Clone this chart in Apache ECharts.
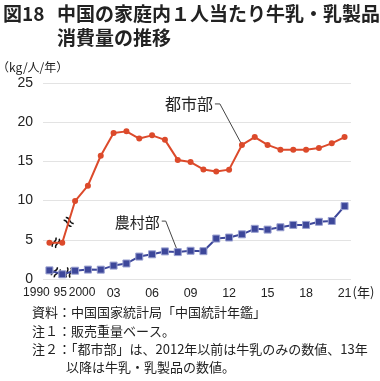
<!DOCTYPE html>
<html><head><meta charset="utf-8">
<script src="https://cdn.jsdelivr.net/npm/echarts@6/dist/echarts.min.js"></script>
<style>html,body{margin:0;padding:0;background:#fff}#c{width:380px;height:381px}</style>
</head><body><div id="c"></div>
<script>
const categories = ['1990','1995','2000','2001','2002','2003','2004','2005','2006','2007','2008','2009','2010','2011','2012','2013','2014','2015','2016','2017','2018','2019','2020','2021'];
const urban = [4.63,4.62,9.94,11.90,15.72,18.62,18.83,17.92,18.32,17.75,15.19,14.91,13.98,13.70,13.95,17.1,18.1,17.1,16.5,16.5,16.5,16.7,17.3,18.1];
const rural = [1.10,0.60,1.06,1.20,1.19,1.71,1.98,2.86,3.15,3.52,3.43,3.60,3.55,5.16,5.29,5.70,6.40,6.30,6.60,6.90,6.90,7.30,7.40,9.30];
const tickCats = ['1990','1995','2000','2003','2006','2009','2012','2015','2018','2021'];
const tickTexts = ['1990','95','2000','03','06','09','12','15','18','21'];
const crowdedTicks = ['1990','1995','2000'];
const yTicks = [0,5,10,15,20,25];
const urbanName = '都市部';
const ruralName = '農村部';
const titleHead = '図18';
const titleLines = ['中国の家庭内１人当たり牛乳・乳製品','消費量の推移'];
const noteLines = ['資料：中国国家統計局「中国統計年鑑」','注１：販売重量ベース。','注２：「都市部」は、2012年以前は牛乳のみの数値、13年','以降は牛乳・乳製品の数値。'];
const yUnit = '（kg/人/年）';
const xUnit = '(年)';

const RED = '#dc4a2b', BLUE = '#3d479a';
const JP = '"Noto Sans CJK JP", sans-serif';
const NUM = '"Liberation Sans", Arial, sans-serif';
const chart = echarts.init(document.getElementById('c'), null, {renderer:'canvas'});
const option = {
  animation:false,
  grid:{left:43, right:29, top:83, bottom:102, containLabel:false},
  xAxis:{type:'category', data:categories, boundaryGap:true,
    axisLine:{show:false}, axisTick:{show:false},
    axisLabel:{interval:(i,v)=>tickCats.indexOf(v)>=0 && crowdedTicks.indexOf(v)<0, showMinLabel:true, showMaxLabel:true,
      margin:8, fontSize:12.5, fontFamily:NUM, color:'#222',
      formatter:(v)=>tickTexts[tickCats.indexOf(v)]}},
  yAxis:{type:'value', min:yTicks[0], max:yTicks[yTicks.length-1], interval:5,
    axisLine:{show:false}, axisTick:{show:false},
    axisLabel:{margin:10, fontSize:14, fontFamily:NUM, color:'#222'},
    splitLine:{lineStyle:{color:'#e3e3e3', width:1}}},
  series:[
    {name:urbanName, type:'line', data:urban, symbol:'circle', symbolSize:6, z:3,
      lineStyle:{color:RED, width:2}, itemStyle:{color:RED}},
    {name:ruralName, type:'line', data:rural, symbol:'rect', symbolSize:7, z:3,
      lineStyle:{color:BLUE, width:2}, itemStyle:{color:BLUE, borderColor:'#9aa0d0', borderWidth:1}}
  ]
};
chart.setOption(option);

function px(i,v){return chart.convertToPixel({xAxisIndex:0,yAxisIndex:0},[i,v]);}
const g = [];
g.push({type:'text', x:3, y:4, style:{text:titleHead, font:'bold 19px '+JP, fill:'#222'}});
g.push({type:'text', x:57, y:4, style:{text:titleLines[0], font:'bold 19px '+JP, fill:'#222'}});
g.push({type:'text', x:57, y:28, style:{text:titleLines[1], font:'bold 19px '+JP, fill:'#222'}});
g.push({type:'text', x:-3, y:61, style:{text:yUnit, font:'12px '+JP, fill:'#222'}});
const last = px(categories.length-1, 0);
g.push({type:'text', x:last[0]+8, y:last[1]+7, style:{text:xUnit, font:'13px '+JP, fill:'#222'}});
const nudge = [-13,-2,7];
crowdedTicks.forEach((c,k)=>{
  const p = px(categories.indexOf(c), 0);
  g.push({type:'text', x:p[0]+nudge[k], y:p[1]+8, style:{text:tickTexts[tickCats.indexOf(c)], font:'12px '+NUM, fill:'#222', align:'center', verticalAlign:'top'}});
});
const noteX=[32,32,32,66];
noteLines.forEach((t,i)=>g.push({type:'text', x:noteX[i], y:306+i*18.3, style:{text:t, font:'13px '+JP, fill:'#222'}}));
function wave(x){return {type:'bezierCurve', shape:{x1:x,y1:-5,cpx1:x+3.5,cpy1:-1.5,cpx2:x-3.5,cpy2:1.5,x2:x,y2:5}, style:{stroke:'#111', lineWidth:1.4, fill:null}};}
function breaks(data){
  [0,1].forEach(i=>{
    const a=px(i,data[i]), b=px(i+1,data[i+1]);
    const ang=Math.atan2(-(b[1]-a[1]), b[0]-a[0]);
    g.push({type:'group', x:(a[0]+b[0])/2, y:(a[1]+b[1])/2, rotation:ang-0.35, z:10, children:[
      {type:'rect', shape:{x:-1.6,y:-4,width:3.2,height:8}, style:{fill:'#fff'}},
      wave(-1.8), wave(1.8)
    ]});
  });
}
breaks(urban); breaks(rural);
const iu = categories.indexOf('2013');
const pu = px(iu, urban[iu]);
g.push({type:'text', x:pu[0]-29, y:pu[1]-41, style:{text:urbanName, font:'16px '+JP, fill:'#222', align:'right', verticalAlign:'middle'}});
g.push({type:'polyline', shape:{points:[[pu[0]-27,pu[1]-41],[pu[0]-22,pu[1]-41],[pu[0]-1,pu[1]-2]]}, style:{stroke:'#444', lineWidth:1, fill:null}});
const ir = categories.indexOf('2008');
const pr = px(ir, rural[ir]);
g.push({type:'text', x:pr[0]-18, y:pr[1]-30, style:{text:ruralName, font:'15px '+JP, fill:'#222', align:'right', verticalAlign:'middle'}});
g.push({type:'polyline', shape:{points:[[pr[0]-16,pr[1]-31],[pr[0]-12,pr[1]-31],[pr[0]-1,pr[1]-3]]}, style:{stroke:'#444', lineWidth:1, fill:null}});
chart.setOption({graphic:g});
</script></body></html>
